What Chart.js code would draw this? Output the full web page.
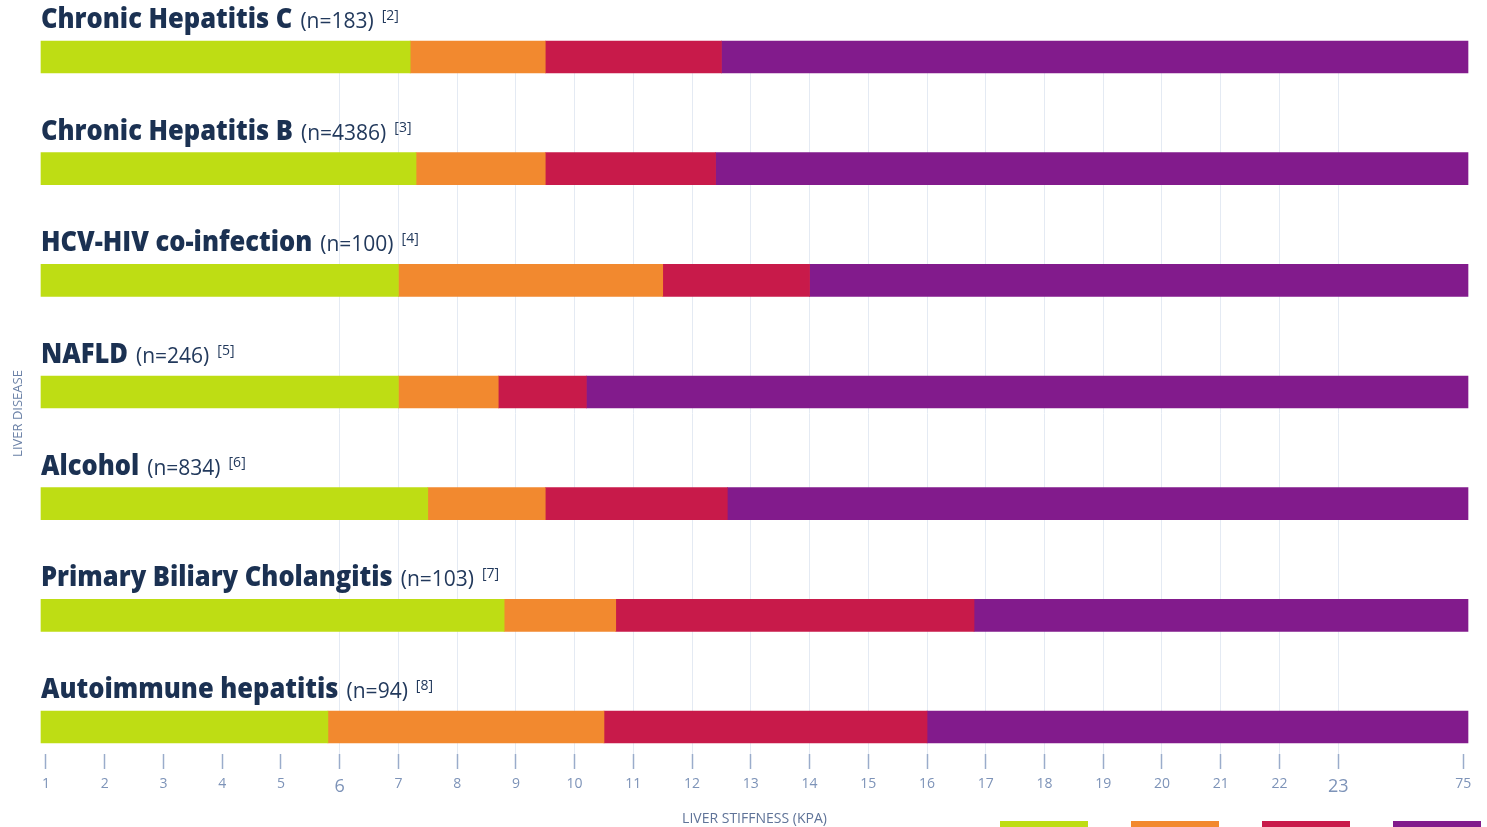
<!DOCTYPE html>
<html>
<head>
<meta charset="utf-8">
<title>Liver stiffness cut-offs by liver disease</title>
<script src="https://cdn.jsdelivr.net/npm/chart.js@4.4.1/dist/chart.umd.min.js"></script>
<style>
  html, body { margin: 0; padding: 0; background: #fff; overflow: hidden; }
  .wrap { position: relative; width: 1487px; height: 827px; }
  canvas { display: block; }
  .legend { position: absolute; top: 821px; left: 1000px; display: flex; gap: 43px; }
  .legend span { display: block; width: 88px; height: 14px; }
</style>
</head>
<body>
<div class="wrap">
  <canvas id="chart" width="1487" height="827"></canvas>
  <div class="legend" id="legend"></div>
</div>
<script>
const diseases = [
  "Chronic Hepatitis C",
  "Chronic Hepatitis B",
  "HCV-HIV co-infection",
  "NAFLD",
  "Alcohol",
  "Primary Biliary Cholangitis",
  "Autoimmune hepatitis"
];
const sampleSizes = [183, 4386, 100, 246, 834, 103, 94];
const refs = [2, 3, 4, 5, 6, 7, 8];

// kPa value where each stage begins
const f2Cutoff = [7.2, 7.3, 7.0, 7.0, 7.5, 8.8, 5.8];
const f3Cutoff = [9.5, 9.5, 11.5, 8.7, 9.5, 10.7, 10.5];
const f4Cutoff = [12.5, 12.4, 14.0, 10.2, 12.6, 16.8, 16.0];

const tickLabels = [1, 2, 3, 4, 5, 6, 7, 8, 9, 10, 11, 12, 13, 14, 15, 16, 17, 18, 19, 20, 21, 22, 23, 75];
const bigTicks = [6, 23];

const stageNames = ["F0-F1", "F2", "F3", "F4"];
const stageColors = ["#bedd14", "#f2892f", "#c81a4a", "#821b8c"];

// axis is linear up to 23 kPa, 23-75 is squeezed into a short stretch
const BREAK_AT = 23;
const AXIS_TOP = 75;
const SQUEEZE = 2.13;
const AXIS_MIN = 0.915;
const AXIS_MAX = 25.21;

function toPos(v) {
  if (v <= BREAK_AT) return v;
  return BREAK_AT + (v - BREAK_AT) / (AXIS_TOP - BREAK_AT) * SQUEEZE;
}

const bounds = diseases.map((_, i) => [
  AXIS_MIN,
  toPos(f2Cutoff[i]),
  toPos(f3Cutoff[i]),
  toPos(f4Cutoff[i]),
  AXIS_MAX
]);

const datasets = stageNames.map((name, s) => ({
  label: name,
  data: diseases.map((_, i) => ({ x: [bounds[i][s], bounds[i][s + 1]], y: i })),
  backgroundColor: stageColors[s],
  borderWidth: 0,
  barThickness: 32,
  grouped: false,
  clip: false
}));

const rowTitles = {
  id: "rowTitles",
  afterDatasetsDraw(chart) {
    const { ctx, scales: { x, y } } = chart;
    ctx.save();
    ctx.textBaseline = "alphabetic";
    ctx.textAlign = "left";

    diseases.forEach((name, i) => {
      const base = y.getPixelForValue(i) - 16 - 13;
      let cx = x.left;

      // condensed bold name
      ctx.font = '800 28px "Open Sans"';
      ctx.fillStyle = "#1b3152";
      const sx = 0.91;
      ctx.save();
      ctx.translate(cx, base);
      ctx.scale(sx, 1);
      ctx.fillText(name, 0, 0);
      ctx.restore();
      cx += ctx.measureText(name).width * sx + 8;

      ctx.font = '400 21px "Open Sans"';
      ctx.fillStyle = "#22395c";
      const nText = `(n=${sampleSizes[i]})`;
      ctx.fillText(nText, cx, base);
      cx += ctx.measureText(nText).width + 8;

      ctx.font = '400 14px "Open Sans"';
      ctx.fillText(`[${refs[i]}]`, cx, base - 8);
    });

    ctx.restore();
  }
};

document.getElementById("legend").innerHTML = stageColors
  .map((c, s) => `<span title="${stageNames[s]}" style="background:${c}"></span>`)
  .join("");

new Chart(document.getElementById("chart"), {
  type: "bar",
  data: { datasets },
  plugins: [rowTitles],
  options: {
    indexAxis: "y",
    responsive: false,
    animation: false,
    layout: { padding: { top: 73, right: 19, bottom: 0, left: 0 } },
    plugins: {
      legend: { display: false },
      tooltip: { enabled: false }
    },
    scales: {
      x: {
        type: "linear",
        min: AXIS_MIN,
        max: AXIS_MAX,
        afterBuildTicks: scale => {
          scale.ticks = tickLabels.map(v => ({ value: toPos(v) }));
        },
        afterFit: scale => { scale.height = 73; },
        border: { display: false },
        grid: {
          color: c => {
            const v = tickLabels[c.index];
            return v >= 6 && v <= 23 ? "#e4eaf3" : "rgba(0,0,0,0)";
          },
          tickColor: "#9aaccb",
          tickLength: 15,
          tickWidth: 1.5
        },
        ticks: {
          autoSkip: false,
          maxRotation: 0,
          padding: 7,
          color: "#7d93b8",
          font: c => ({
            family: "Open Sans",
            size: bigTicks.includes(tickLabels[c.index]) ? 18 : 14
          }),
          callback: (val, i) => tickLabels[i]
        },
        title: {
          display: true,
          text: "LIVER STIFFNESS (KPA)",
          color: "#5f7398",
          font: { family: "Open Sans", size: 14 },
          padding: { top: 5, bottom: 0 }
        }
      },
      y: {
        type: "linear",
        reverse: true,
        offset: false,
        min: 0.1433,
        max: 6.2417,
        afterFit: scale => { scale.width = 41; },
        ticks: { display: false },
        grid: { display: false, offset: false },
        border: { display: false },
        title: {
          display: true,
          text: "LIVER DISEASE",
          color: "#6a80a6",
          font: { family: "Open Sans", size: 13 },
          padding: { top: 10, bottom: 0 }
        }
      }
    }
  }
});
</script>
</body>
</html>
